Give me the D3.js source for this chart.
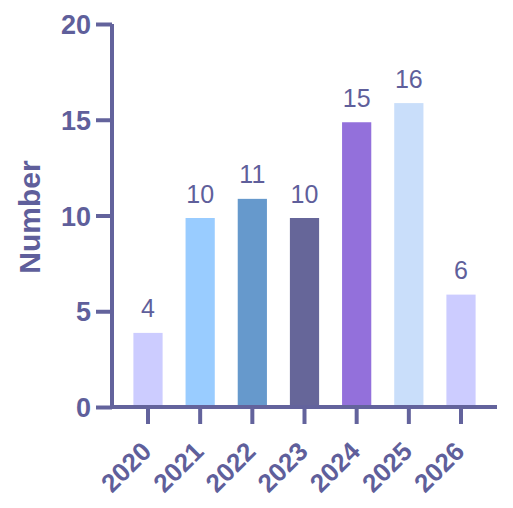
<!DOCTYPE html>
<html>
<head>
<meta charset="utf-8">
<script src="https://cdn.jsdelivr.net/npm/d3@7"></script>
<style>
  body { margin: 0; background: #fff; }
  text { font-family: "Liberation Sans", Arial, sans-serif; }
</style>
</head>
<body>
<script>
var years = ["2020", "2021", "2022", "2023", "2024", "2025", "2026"];
var counts = [4, 10, 11, 10, 15, 16, 6];
var barColors = ["#ccccff", "#99ccff", "#6699cc", "#666699", "#9370db", "#c9defa", "#ccccff"];
var yTicks = [0, 5, 10, 15, 20];

var axisColor = "#63639c",
    textColor = "#5f5f9b";

var width = 513, height = 508;

var svg = d3.select("body").append("svg")
    .attr("width", width)
    .attr("height", height);

var x = d3.scaleBand()
    .domain(years)
    .range([112, 497])
    .paddingInner(0.44)
    .paddingOuter(0.41);

var y = d3.scaleLinear()
    .domain([0, 20])
    .range([407, 24]);

// bars
svg.append("g")
    .selectAll("rect")
    .data(counts)
    .enter().append("rect")
    .attr("x", function(d, i) { return x(years[i]); })
    .attr("width", x.bandwidth())
    .attr("y", function(d) { return y(d) + 2.5; })
    .attr("height", function(d) { return y(0) - y(d) - 2.5; })
    .attr("fill", function(d, i) { return barColors[i]; });

// value labels
svg.append("g")
    .selectAll("text")
    .data(counts)
    .enter().append("text")
    .attr("x", function(d, i) { return x(years[i]) + x.bandwidth() / 2; })
    .attr("y", function(d) { return y(d) - 13; })
    .attr("text-anchor", "middle")
    .style("font-size", "25px")
    .style("fill", textColor)
    .text(function(d) { return d; });

// y axis
var yAxis = svg.append("g")
    .attr("transform", "translate(112,0)")
    .call(d3.axisLeft(y).tickValues(yTicks).tickSize(16).tickPadding(5));

// x axis
var xAxis = svg.append("g")
    .attr("transform", "translate(0,407)")
    .call(d3.axisBottom(x).tickSize(17).tickPadding(4));

xAxis.select(".domain").attr("d", "M110,0H497");
yAxis.select(".domain").attr("d", "M0,409V24");

[xAxis, yAxis].forEach(function(ax) {
  ax.select(".domain").attr("stroke", axisColor).attr("stroke-width", 4);
  ax.selectAll(".tick line").attr("stroke", axisColor).attr("stroke-width", 4);
  ax.selectAll(".tick text")
    .style("fill", textColor)
    .style("font-weight", "bold");
});

yAxis.selectAll(".tick text")
    .style("font-size", "27px")
    .attr("dy", "0.36em");

xAxis.selectAll(".tick text")
    .style("font-size", "26px")
    .attr("text-anchor", "end")
    .attr("x", 0)
    .attr("y", 0)
    .attr("dy", 0)
    .attr("transform", "translate(5,46) rotate(-45)");

// y title
svg.append("text")
    .attr("transform", "translate(40,217) rotate(-90)")
    .attr("text-anchor", "middle")
    .style("font-size", "30px")
    .style("font-weight", "bold")
    .style("fill", textColor)
    .text("Number");
</script>
</body>
</html>
